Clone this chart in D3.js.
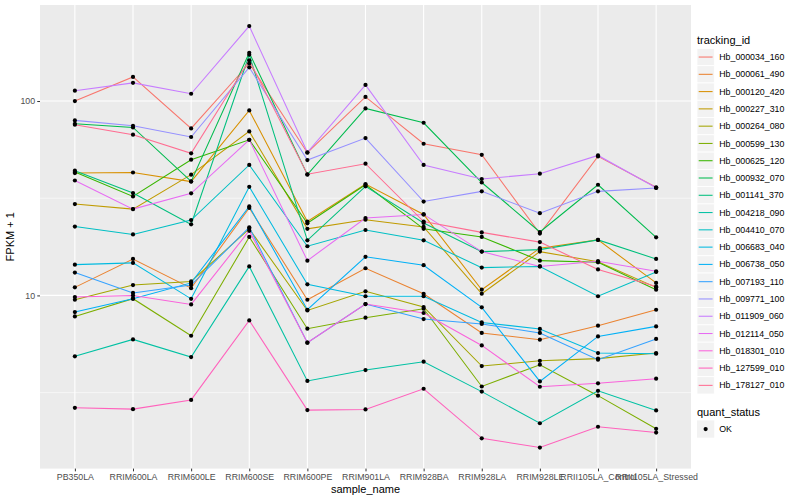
<!DOCTYPE html>
<html lang="en">
<head>
<meta charset="UTF-8">
<title>FPKM + 1 by sample</title>
<style>
    body {
        margin: 0;
        background: #fff;
    }

    svg {
        display: block;
        font-family: "Liberation Sans", Arial, Helvetica, sans-serif;
    }

    .axis text {
        fill: #4d4d4d;
        font-size: 8.8px;
    }

    .axis line {
        stroke: #333;
    }

    .axis-title {
        font-size: 11px;
        fill: #000;
    }

    .legend text {
        font-size: 8.8px;
        fill: #000;
    }

    .legend .legend-title {
        font-size: 11px;
    }
</style>
</head>
<body>
<div id="chart"></div>

<script src="https://d3js.org/d3.v7.min.js"></script>
<script>
    const samples = ["PB350LA", "RRIM600LA", "RRIM600LE", "RRIM600SE", "RRIM600PE", "RRIM901LA",
        "RRIM928BA", "RRIM928LA", "RRIM928LE", "RRII105LA_Control", "RRII105LA_Stressed"];

    const trackingIds = ["Hb_000034_160", "Hb_000061_490", "Hb_000120_420", "Hb_000227_310",
        "Hb_000264_080", "Hb_000599_130", "Hb_000625_120", "Hb_000932_070", "Hb_001141_370",
        "Hb_004218_090", "Hb_004410_070", "Hb_006683_040", "Hb_006738_050", "Hb_007193_110",
        "Hb_009771_100", "Hb_011909_060", "Hb_012114_050", "Hb_018301_010", "Hb_127599_010",
        "Hb_178127_010"];

    // FPKM + 1, one value per sample (same order as samples)
    const hb_000034_160 = [100, 133, 72.3, 156, 54.2, 105, 60.3, 52.9, 20.8, 51.9, 36.0];
    const hb_000061_490 = [11.0, 15.4, 10.9, 28.2, 9.5, 13.8, 10.2, 6.41, 5.92, 6.99, 8.44];
    const hb_000120_420 = [42.6, 42.9, 38.5, 89.5, 24.0, 37.4, 26.1, 10.7, 17.5, 19.3, 11.6];
    const hb_000227_310 = [29.5, 27.8, 41.8, 69.8, 22.0, 24.5, 22.5, 10.2, 16.8, 14.9, 11.0];
    const hb_000264_080 = [9.5, 11.3, 11.8, 22.0, 8.37, 10.5, 8.72, 4.33, 4.61, 4.73, 5.05];
    const hb_000599_130 = [7.80, 9.62, 6.20, 20.0, 6.74, 7.68, 8.54, 3.40, 4.40, 3.05, 2.06];
    const hb_000625_120 = [43.1, 32.3, 49.9, 63.2, 23.5, 37.1, 22.0, 20.0, 15.1, 14.8, 10.7];
    const hb_000932_070 = [76.4, 73.1, 38.6, 177, 41.8, 91.6, 77.3, 38.1, 21.2, 37.1, 19.9];
    const hb_001141_370 = [43.8, 33.6, 23.2, 173, 19.2, 36.4, 23.6, 16.8, 17.2, 19.3, 15.4];
    const hb_004218_090 = [4.86, 5.94, 4.82, 14.1, 3.63, 4.13, 4.56, 3.20, 2.20, 3.23, 2.56];
    const hb_004410_070 = [22.6, 20.6, 24.4, 46.9, 17.9, 21.7, 19.2, 13.9, 14.1, 9.9, 13.2];
    const hb_006683_040 = [14.4, 14.7, 9.6, 36.2, 11.4, 9.9, 9.9, 7.26, 6.72, 5.05, 5.01];
    const hb_006738_050 = [8.21, 9.62, 11.6, 28.7, 8.44, 15.8, 14.3, 8.68, 3.61, 6.15, 6.93];
    const hb_007193_110 = [13.1, 10.3, 11.3, 22.4, 5.71, 9.03, 7.56, 7.13, 6.41, 4.67, 5.97];
    const hb_009771_100 = [79.5, 74.6, 65.3, 149, 49.7, 64.5, 30.4, 34.3, 26.5, 34.3, 35.7];
    const hb_011909_060 = [113, 124, 109, 243, 54.5, 121, 46.9, 39.7, 42.3, 52.5, 35.8];
    const hb_012114_050 = [39.0, 27.8, 33.5, 63.2, 15.1, 25.0, 26.1, 16.8, 14.1, 15.0, 13.3];
    const hb_018301_010 = [9.81, 10.0, 8.99, 21.5, 5.71, 9.03, 8.12, 5.53, 3.39, 3.53, 3.73];
    const hb_127599_010 = [2.64, 2.60, 2.90, 7.44, 2.57, 2.59, 3.31, 1.84, 1.65, 2.11, 1.97];
    const hb_178127_010 = [75.5, 67.1, 53.8, 162, 42.0, 47.6, 24.0, 21.1, 18.8, 13.6, 11.1];

    const seriesValues = [hb_000034_160, hb_000061_490, hb_000120_420, hb_000227_310,
        hb_000264_080, hb_000599_130, hb_000625_120, hb_000932_070, hb_001141_370,
        hb_004218_090, hb_004410_070, hb_006683_040, hb_006738_050, hb_007193_110,
        hb_009771_100, hb_011909_060, hb_012114_050, hb_018301_010, hb_127599_010,
        hb_178127_010];

    const yMajorTicks = [10, 100];
    const yMinorTicks = [3.162, 31.62];
    const quantStatus = ["OK"];

    // ggplot default hue palette for 20 levels
    const palette = ["#F8766D", "#EA8331", "#D89000", "#C09B00", "#A3A500", "#7CAE00", "#39B600",
        "#00BB4E", "#00BF7D", "#00C1A3", "#00BFC4", "#00BAE0", "#00B0F6", "#35A2FF", "#9590FF",
        "#C77CFF", "#E76BF3", "#FA62DB", "#FF62BC", "#FF6C91"];

    const width = 800;
    const height = 500;
    const panel = { left: 40, right: 691, top: 5, bottom: 468.6 };

    const series = trackingIds.map((id, i) => ({
        id: id,
        colour: palette[i],
        values: seriesValues[i].map((v, j) => ({ sample: samples[j], value: v }))
    }));

    const x = d3.scalePoint()
        .domain(samples)
        .range([panel.left, panel.right])
        .padding(0.6);

    // log10 scale with ggplot's 5% expansion in transformed space
    const [lo, hi] = d3.extent(seriesValues.flat()).map(Math.log10);
    const pad = (hi - lo) * 0.05;
    const y = d3.scaleLog()
        .domain([Math.pow(10, lo - pad), Math.pow(10, hi + pad)])
        .range([panel.bottom, panel.top]);

    const svg = d3.select("#chart")
        .append("svg")
        .attr("width", width)
        .attr("height", height);

    svg.append("rect")
        .attr("x", panel.left)
        .attr("y", panel.top)
        .attr("width", panel.right - panel.left)
        .attr("height", panel.bottom - panel.top)
        .attr("fill", "#ebebeb");

    // grid
    const grid = svg.append("g");
    grid.selectAll(".minor-y")
        .data(yMinorTicks)
        .enter()
        .append("line")
        .attr("x1", panel.left)
        .attr("x2", panel.right)
        .attr("y1", d => y(d))
        .attr("y2", d => y(d))
        .attr("stroke", "#fff")
        .attr("stroke-width", 0.55);

    grid.selectAll(".major-y")
        .data(yMajorTicks)
        .enter()
        .append("line")
        .attr("x1", panel.left)
        .attr("x2", panel.right)
        .attr("y1", d => y(d))
        .attr("y2", d => y(d))
        .attr("stroke", "#fff")
        .attr("stroke-width", 1.1);

    grid.selectAll(".major-x")
        .data(samples)
        .enter()
        .append("line")
        .attr("x1", d => x(d))
        .attr("x2", d => x(d))
        .attr("y1", panel.top)
        .attr("y2", panel.bottom)
        .attr("stroke", "#fff")
        .attr("stroke-width", 1.1);

    // lines
    const line = d3.line()
        .x(d => x(d.sample))
        .y(d => y(d.value));

    svg.append("g")
        .selectAll("path")
        .data(series)
        .enter()
        .append("path")
        .attr("d", d => line(d.values))
        .attr("fill", "none")
        .attr("stroke", d => d.colour)
        .attr("stroke-width", 1.05);

    // points
    svg.append("g")
        .selectAll("circle")
        .data(series.flatMap(d => d.values))
        .enter()
        .append("circle")
        .attr("cx", d => x(d.sample))
        .attr("cy", d => y(d.value))
        .attr("r", 2.1)
        .attr("fill", "#000");

    // axes
    const xAxis = d3.axisBottom(x)
        .tickSize(2.75)
        .tickPadding(2.2);

    const yAxis = d3.axisLeft(y)
        .tickValues(yMajorTicks)
        .tickFormat(d3.format("d"))
        .tickSize(2.75)
        .tickPadding(2.2);

    svg.append("g")
        .attr("class", "axis")
        .attr("transform", `translate(0, ${panel.bottom})`)
        .call(xAxis)
        .select(".domain").remove();

    svg.append("g")
        .attr("class", "axis")
        .attr("transform", `translate(${panel.left}, 0)`)
        .call(yAxis)
        .select(".domain").remove();

    svg.selectAll(".axis text").attr("font-family", null).attr("font-size", null);

    svg.append("text")
        .attr("class", "axis-title")
        .attr("x", (panel.left + panel.right) / 2)
        .attr("y", 493)
        .attr("text-anchor", "middle")
        .text("sample_name");

    svg.append("text")
        .attr("class", "axis-title")
        .attr("transform", `translate(14, ${(panel.top + panel.bottom) / 2}) rotate(-90)`)
        .attr("text-anchor", "middle")
        .text("FPKM + 1");

    // legends
    const keySize = 17.28;
    const legend = svg.append("g")
        .attr("class", "legend")
        .attr("transform", "translate(697, 0)");

    legend.append("text")
        .attr("class", "legend-title")
        .attr("x", 0)
        .attr("y", 44)
        .text("tracking_id");

    const keys = legend.selectAll(".key")
        .data(series)
        .enter()
        .append("g")
        .attr("class", "key")
        .attr("transform", (d, i) => `translate(0, ${48.4 + i * keySize})`);

    keys.append("rect")
        .attr("width", keySize)
        .attr("height", keySize)
        .attr("fill", "#f2f2f2")
        .attr("stroke", "#fff")
        .attr("stroke-width", 0.8);

    keys.append("line")
        .attr("x1", 1.7)
        .attr("x2", keySize - 1.7)
        .attr("y1", keySize / 2)
        .attr("y2", keySize / 2)
        .attr("stroke", d => d.colour)
        .attr("stroke-width", 1.05);

    keys.append("text")
        .attr("x", keySize + 5)
        .attr("y", keySize / 2)
        .attr("dy", "0.35em")
        .text(d => d.id);

    legend.append("text")
        .attr("class", "legend-title")
        .attr("x", 0)
        .attr("y", 416)
        .text("quant_status");

    const statusKeys = legend.selectAll(".status")
        .data(quantStatus)
        .enter()
        .append("g")
        .attr("class", "status")
        .attr("transform", (d, i) => `translate(0, ${420.4 + i * keySize})`);

    statusKeys.append("rect")
        .attr("width", keySize)
        .attr("height", keySize)
        .attr("fill", "#f2f2f2");

    statusKeys.append("circle")
        .attr("cx", keySize / 2)
        .attr("cy", keySize / 2)
        .attr("r", 2.1)
        .attr("fill", "#000");

    statusKeys.append("text")
        .attr("x", keySize + 5)
        .attr("y", keySize / 2)
        .attr("dy", "0.35em")
        .text(d => d);
</script>
</body>
</html>
